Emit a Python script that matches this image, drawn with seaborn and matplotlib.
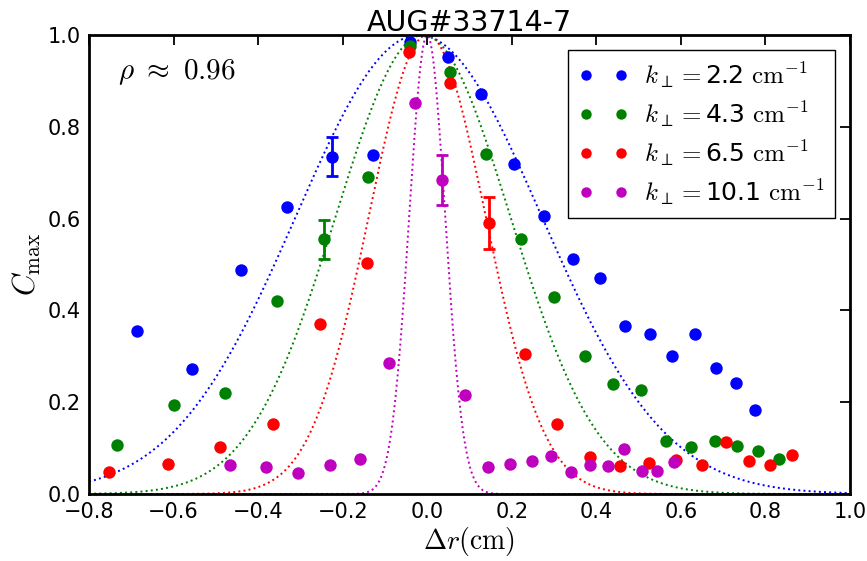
import numpy as np
import pandas as pd
import matplotlib
matplotlib.use("Agg")
import matplotlib.pyplot as plt
from matplotlib.lines import Line2D
import seaborn as sns

# ==========================================
# Data
# ==========================================

k_labels = ["2.2", "4.3", "6.5", "10.1"]
colors = ["#0000ff", "#008000", "#ff0000", "#bf00bf"]

blue_x = [-0.686, -0.557, -0.441, -0.331, -0.226, -0.128, -0.040, 0.049, 0.128,
          0.205, 0.277, 0.346, 0.409, 0.469, 0.527, 0.580, 0.633, 0.683, 0.730, 0.776]
blue_y = [0.356, 0.272, 0.488, 0.625, 0.735, 0.739, 0.985, 0.951, 0.871,
          0.718, 0.606, 0.511, 0.470, 0.366, 0.348, 0.301, 0.349, 0.274, 0.241, 0.183]

green_x = [-0.735, -0.598, -0.478, -0.355, -0.244, -0.139, -0.041, 0.054, 0.140,
           0.222, 0.300, 0.373, 0.439, 0.506, 0.566, 0.625, 0.680, 0.733, 0.783, 0.833]
green_y = [0.106, 0.193, 0.219, 0.420, 0.555, 0.691, 0.977, 0.920, 0.741,
           0.556, 0.430, 0.301, 0.240, 0.227, 0.116, 0.103, 0.116, 0.105, 0.094, 0.076]

red_x = [-0.752, -0.614, -0.490, -0.364, -0.254, -0.143, -0.042, 0.055, 0.147,
         0.232, 0.308, 0.386, 0.457, 0.524, 0.588, 0.650, 0.707, 0.761, 0.812, 0.863]
red_y = [0.049, 0.065, 0.102, 0.152, 0.370, 0.503, 0.964, 0.895, 0.590,
         0.305, 0.152, 0.080, 0.062, 0.067, 0.074, 0.063, 0.114, 0.072, 0.063, 0.086]

mag_x = [-0.467, -0.382, -0.305, -0.230, -0.159, -0.090, -0.030, 0.034, 0.089,
         0.144, 0.196, 0.247, 0.294, 0.341, 0.385, 0.427, 0.466, 0.509, 0.544, 0.584]
mag_y = [0.063, 0.058, 0.046, 0.063, 0.076, 0.286, 0.851, 0.684, 0.216,
         0.058, 0.065, 0.072, 0.083, 0.049, 0.063, 0.062, 0.098, 0.050, 0.050, 0.069]

# one error bar per series
err_x = [-0.226, -0.244, 0.147, 0.034]
err_y = [0.735, 0.555, 0.590, 0.684]
err_size = [0.043, 0.042, 0.056, 0.055]

# gaussian fits: exp(-(x-x0)^2 / (2 sigma^2))
fit_center = [-0.02, -0.01, 0.0, 0.0]
fit_sigma = [0.29, 0.206, 0.138, 0.0425]

series_x = [blue_x, green_x, red_x, mag_x]
series_y = [blue_y, green_y, red_y, mag_y]

# ==========================================
# Plot
# ==========================================

sns.set_style("white")
plt.rcParams["font.family"] = ["DejaVu Sans"]
plt.rcParams["mathtext.fontset"] = "cm"
plt.rcParams["text.color"] = "black"
plt.rcParams["axes.labelcolor"] = "black"
plt.rcParams["xtick.color"] = "black"
plt.rcParams["ytick.color"] = "black"

fig = plt.figure(figsize=(8.67, 5.61), dpi=100)
ax = fig.add_axes([0.1027, 0.1194, 0.8776, 0.8182])

r = np.linspace(-0.8, 1.0, 600)

for i in range(4):
    fit_df = pd.DataFrame({
        "r": r,
        "c": np.exp(-(r - fit_center[i]) ** 2 / (2 * fit_sigma[i] ** 2)),
    })
    sns.lineplot(data=fit_df, x="r", y="c", ax=ax, color=colors[i],
                 linestyle=":", linewidth=1.4, zorder=2)

handles = []
labels = []
for i in range(4):
    df = pd.DataFrame({"r": series_x[i], "c": series_y[i]})
    sns.scatterplot(data=df, x="r", y="c", ax=ax, color=colors[i], s=80,
                    linewidth=0, zorder=3, legend=False)
    ax.errorbar(err_x[i], err_y[i], yerr=err_size[i], color=colors[i],
                capsize=4, elinewidth=2, capthick=2, fmt="none", zorder=3)
    handles.append(Line2D([], [], marker="o", linestyle="none", color=colors[i],
                          markersize=7.5, markeredgewidth=0))
    labels.append(r"$k_\perp=$" + k_labels[i] + r" $\mathrm{cm}^{-1}$")

ax.set_xlim(-0.8, 1.0)
ax.set_ylim(0.0, 1.0)
ax.set_xticks(np.arange(-0.8, 1.01, 0.2))
ax.set_yticks(np.arange(0.0, 1.01, 0.2))
ax.tick_params(direction="in", top=True, right=True, length=7, width=1.3,
               labelsize=15, pad=6)
for sp in ax.spines.values():
    sp.set_linewidth(2)
    sp.set_color("black")

ax.set_title("AUG#33714-7", fontsize=20.5, pad=3)
ax.set_xlabel(r"$\Delta r(\mathrm{cm})$", fontsize=20, labelpad=2)
ax.set_ylabel(r"$C_{\max}$", fontsize=22, labelpad=3)

ax.text(0.038, 0.92, r"$\rho\ \approx\ 0.96$", transform=ax.transAxes,
        fontsize=21, va="center", ha="left")

leg = ax.legend(handles, labels, loc="upper right", numpoints=2, fontsize=18,
                fancybox=False, edgecolor="black", framealpha=1,
                borderaxespad=0.6, handletextpad=0.6, labelspacing=0.36,
                handlelength=2.0, borderpad=0.42)
leg.get_frame().set_linewidth(1.0)

plt.savefig("out.png", dpi=100)
